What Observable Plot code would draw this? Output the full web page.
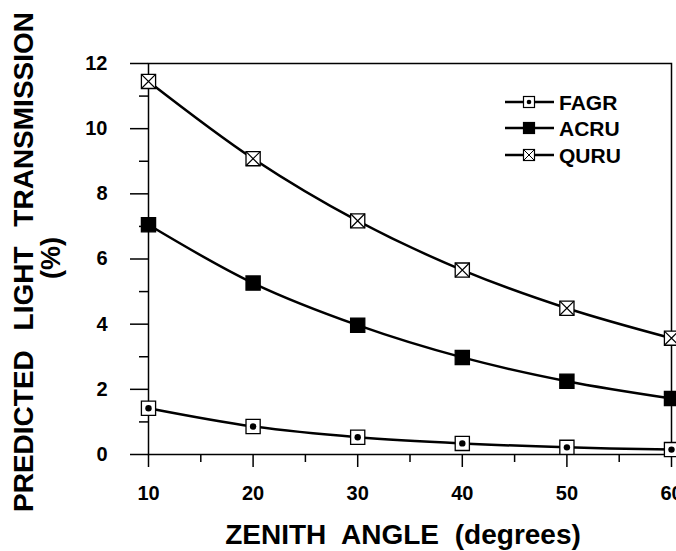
<!DOCTYPE html>
<html>
<head>
<meta charset="utf-8">
<script src="https://cdn.jsdelivr.net/npm/d3@7"></script>
<script src="https://cdn.jsdelivr.net/npm/@observablehq/plot@0.6"></script>
<style>
  html, body { margin: 0; padding: 0; background: white; overflow: hidden; }
</style>
</head>
<body>
<div id="chart"></div>
<script>
const angles = [10, 20, 30, 40, 50, 60];
const species = ["FAGR", "ACRU", "QURU"];
const fagr = [1.42, 0.86, 0.53, 0.34, 0.22, 0.15];
const acru = [7.05, 5.26, 3.97, 2.98, 2.25, 1.72];
const quru = [11.45, 9.08, 7.17, 5.66, 4.49, 3.57];
const yMajor = [0, 2, 4, 6, 8, 10, 12];
const yMinor = [1, 3, 5, 7, 9, 11];
const xMajor = [10, 20, 30, 40, 50, 60];
const xMinor = [15, 25, 35, 45, 55];
const xTitle = "ZENITH ANGLE (degrees)";
const yTitle = "PREDICTED LIGHT TRANSMISSION";
const yTitle2 = "(%)";

const series = {FAGR: fagr, ACRU: acru, QURU: quru};
const data = species.flatMap(s => angles.map((a, i) => ({species: s, angle: a, value: series[s][i]})));

const symX = {
  draw(ctx, size) {
    const h = Math.sqrt(size) / 2;
    ctx.moveTo(-h, -h); ctx.lineTo(h, h);
    ctx.moveTo(h, -h); ctx.lineTo(-h, h);
  }
};

const font = "'Liberation Sans', Arial, Helvetica, sans-serif";

const plot = Plot.plot({
  width: 676,
  height: 551,
  marginLeft: 148,
  marginRight: 5,
  marginTop: 63,
  marginBottom: 97,
  style: {fontFamily: font, fontWeight: "bold", fontSize: "20px", background: "white", color: "black"},
  x: {domain: [10, 60]},
  y: {domain: [0, 12]},
  marks: [
    Plot.frame({stroke: "black", strokeWidth: 1.5}),
    Plot.axisY({ticks: yMajor, tickSize: 18, tickPadding: 23, strokeWidth: 1.5, label: null, fontSize: 20, fontWeight: "bold"}),
    Plot.axisY({ticks: yMinor, tickSize: 9, strokeWidth: 1.5, text: null, label: null}),
    Plot.axisX({ticks: xMajor, tickSize: 13, tickPadding: 18, strokeWidth: 1.5, label: null, fontSize: 20, fontWeight: "bold"}),
    Plot.axisX({ticks: xMinor, tickSize: 8, strokeWidth: 1.5, text: null, label: null}),
    Plot.line(data, {x: "angle", y: "value", z: "species", curve: "catmull-rom", stroke: "black", strokeWidth: 2.5}),
    Plot.dot(data, {x: "angle", y: "value", symbol: "square", r: 8,
      fill: d => d.species === "ACRU" ? "black" : "white", stroke: "black", strokeWidth: 1.3}),
    Plot.dot(data.filter(d => d.species === "QURU"), {x: "angle", y: "value", symbol: symX, r: 8, fill: "none", stroke: "black", strokeWidth: 1.2}),
    Plot.dot(data.filter(d => d.species === "FAGR"), {x: "angle", y: "value", r: 3.2, fill: "black", stroke: "none"})
  ]
});

document.getElementById("chart").appendChild(plot);

const svg = d3.select(plot);

// Axis titles
svg.append("text")
  .attr("transform", "translate(33,262) rotate(-90)")
  .attr("text-anchor", "middle")
  .attr("font-family", font).attr("font-weight", "bold").attr("font-size", 28)
  .style("word-spacing", "12px")
  .attr("fill", "black")
  .text(yTitle);
svg.append("text")
  .attr("transform", "translate(60,258) rotate(-90)")
  .attr("text-anchor", "middle")
  .attr("font-family", font).attr("font-weight", "bold").attr("font-size", 27)
  .attr("fill", "black")
  .text(yTitle2);
svg.append("text")
  .attr("x", 403).attr("y", 544)
  .attr("text-anchor", "middle")
  .attr("font-family", font).attr("font-weight", "bold").attr("font-size", 28)
  .style("word-spacing", "8px")
  .attr("fill", "black")
  .text(xTitle);

// Legend
const lg = svg.append("g").attr("font-family", font).attr("font-weight", "bold").attr("font-size", 21).attr("text-anchor", "start");
const rows = [102, 128, 155];
species.forEach((s, i) => {
  const y = rows[i];
  lg.append("line").attr("x1", 505).attr("x2", 554).attr("y1", y).attr("y2", y).attr("stroke", "black").attr("stroke-width", 2.5);
  const h = 5.5;
  lg.append("rect").attr("x", 529 - h).attr("y", y - h).attr("width", 2 * h).attr("height", 2 * h)
    .attr("fill", s === "ACRU" ? "black" : "white").attr("stroke", "black").attr("stroke-width", 1.2);
  if (s === "FAGR") lg.append("circle").attr("cx", 529).attr("cy", y).attr("r", 2.3).attr("fill", "black");
  if (s === "QURU") lg.append("path").attr("d", `M${529-h},${y-h}L${529+h},${y+h}M${529+h},${y-h}L${529-h},${y+h}`)
    .attr("stroke", "black").attr("stroke-width", 1);
  lg.append("text").attr("x", 559).attr("y", y).attr("dy", "0.36em").attr("fill", "black").attr("text-anchor", "start").text(s);
});
</script>
</body>
</html>
